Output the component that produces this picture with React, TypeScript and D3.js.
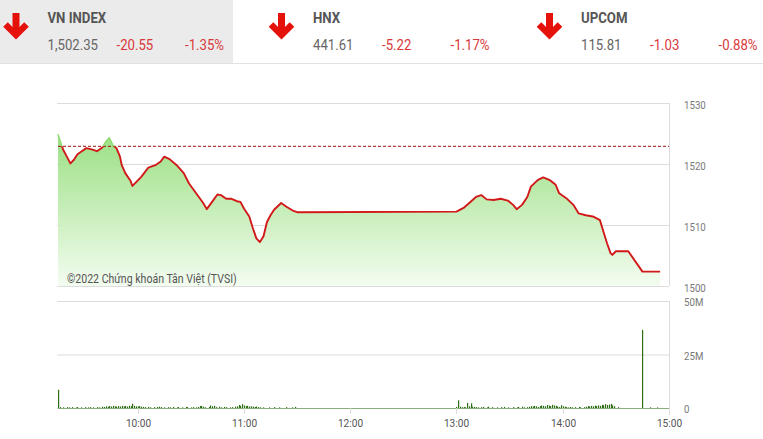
import React from "react";
import * as d3 from "d3";

// ---------- data ----------
const indexNames = ["VN INDEX", "HNX", "UPCOM"];
const indexValues = ["1,502.35", "441.61", "115.81"];
const indexChanges = ["-20.55", "-5.22", "-1.03"];
const indexPercents = ["-1.35%", "-1.17%", "-0.88%"];

const referencePrice = 1522.9;

const priceTimes = [
  "09:15", "09:17", "09:18", "09:20", "09:22", "09:24", "09:26", "09:28", "09:31", "09:34",
  "09:37", "09:40", "09:42", "09:44", "09:46", "09:48", "09:50", "09:51", "09:53", "09:56",
  "09:57", "09:59", "10:02", "10:06", "10:10", "10:13", "10:15", "10:18", "10:22", "10:26",
  "10:29", "10:33", "10:37", "10:39", "10:42", "10:45", "10:47", "10:50", "10:53", "10:56",
  "10:58", "11:00", "11:03", "11:05", "11:07", "11:09", "11:11", "11:13", "11:15", "11:17",
  "11:21", "11:24", "11:28", "11:30",
  "13:00", "13:04", "13:08", "13:11", "13:14", "13:17", "13:21", "13:25", "13:29", "13:32",
  "13:34", "13:37", "13:40", "13:42", "13:46", "13:49", "13:53", "13:56", "13:58", "14:02",
  "14:06", "14:09", "14:13", "14:17", "14:21", "14:23", "14:25", "14:27", "14:28", "14:30",
  "14:37", "14:45", "14:55",
];
const priceValues = [
  1524.9, 1523.1, 1522.3, 1521.2, 1520.1, 1520.7, 1521.6, 1522.0, 1522.6, 1522.4,
  1522.1, 1522.7, 1523.7, 1524.3, 1523.1, 1522.6, 1521.2, 1519.8, 1518.5, 1517.2,
  1516.4, 1517.0, 1517.9, 1519.4, 1519.8, 1520.4, 1521.2, 1520.8, 1519.8, 1518.5,
  1516.8, 1515.2, 1513.6, 1512.6, 1513.8, 1515.0, 1514.9, 1514.3, 1514.3, 1513.9,
  1513.8, 1512.7, 1511.4, 1509.5, 1507.8, 1507.2, 1508.1, 1510.5, 1511.6, 1512.5,
  1513.6, 1513.0, 1512.3, 1512.1,
  1512.2, 1512.8, 1513.8, 1514.6, 1514.9, 1514.2, 1514.1, 1514.3, 1514.0, 1513.3,
  1512.6, 1513.3, 1514.6, 1516.3, 1517.4, 1517.8, 1517.3, 1516.6, 1515.2, 1514.4,
  1513.3, 1511.9, 1511.6, 1511.4, 1510.8, 1508.9, 1507.0, 1505.4, 1505.1, 1505.7,
  1505.7, 1502.35, 1502.35,
];

// volume per minute (millions), morning session starts 09:15
const volumeMorningStart = "09:15";
const volumeMorning = [
  8.5,
  0.4, 0, 0.3, 0, 0.4, 0.3, 0, 0.4, 0, 0.3, 0.4, 0, 0.3, 0, 0.4, 0, 0.3, 0.4, 0, 0.3, 0, 0.4, 0.3, 0,
  0.6, 0.5, 0.8, 0.6, 0.9, 0.7, 1.0, 0.8, 0.6, 0.9, 0.7, 1.0, 0.8, 0.9, 0.7, 1.1, 0.9, 2.0, 1.0, 0.8, 0.7, 0.9, 0.6, 0.5,
  0.4, 0, 0.5, 0.3, 0, 0.4, 0, 0.5, 0.6, 0.4, 0, 0.3, 0, 0.4, 0.3, 0, 0.5, 0, 0.3, 0.4, 0, 0.3, 0, 0.5, 0.4, 0, 0.3, 0.4, 0, 0.3,
  0.5, 0.9, 1.0, 0.6, 0.3, 0, 0.5, 1.2, 0.8, 1.0, 0.4, 0, 0.6, 0.3, 0, 0.5, 0.4,
  0, 0.3, 0.4, 0, 0.6, 0.8, 1.4, 1.0, 1.8, 1.2, 0.9, 1.0, 0.7, 0.8, 0.6, 0.5, 0.7, 0.4, 0.3, 0,
  0.3, 0, 0, 0.3, 0, 0, 0.4, 0, 0, 0.3, 0, 0, 0, 0.4, 0, 0, 0.3, 0, 0.5,
];
// volume per minute (millions), afternoon session starts 13:00
const volumeAfternoonStart = "13:00";
const volumeAfternoon = [
  0.5, 3.6, 0.6, 0.4, 0.5, 0.3, 2.4, 0.8, 2.2, 0.6, 0.5, 0.4,
  0.3, 0, 0.4, 0.5, 0, 0.3, 0.6, 0, 0.4, 0, 0, 0.3, 0, 0.4, 0, 0.5, 0, 0.3, 0, 0, 0.4, 0, 0.3, 0.5, 0, 0.6, 0.3, 0, 0.4,
  0.6, 0.9, 0.7, 1.0, 0.8, 0.5, 0.9, 1.2, 1.0, 0.8, 1.4, 1.1, 0.9, 1.5, 1.2, 1.0, 0.7, 0.5, 1.3, 0.8, 0.6, 0.4, 0.3, 0.5,
  0.3, 0, 0.4, 0, 0.5, 0.3, 0, 0.4, 0.6, 0.9, 0.7, 1.0, 0.8, 1.1, 0.9, 1.2, 1.0, 1.5, 1.3, 1.8, 1.4, 1.6, 1.9, 1.2, 0.8,
];
const volumeExtraTimes = ["14:31", "14:45", "14:49", "14:53"];
const volumeExtraValues = [0.4, 36.5, 0.3, 0.3];

const priceTicks = [1500, 1510, 1520, 1530];
const volumeTicks = [0, 25, 50];
const volumeTickLabels = ["0", "25M", "50M"];
const timeTicks = ["10:00", "11:00", "12:00", "13:00", "14:00", "15:00"];
const timeDomain = ["09:15", "15:00"];
const copyright = "©2022 Chứng khoán Tân Việt (TVSI)";

// ---------- helpers ----------
const toDate = (s: string) => {
  const [h, m] = s.split(":").map(Number);
  return new Date(2022, 0, 1, h, m);
};
const addMinutes = (s: string, n: number) => new Date(toDate(s).getTime() + n * 60000);

const W = 763;
const H = 439;
const FONT = "Roboto, 'Noto Sans', sans-serif";
const SX = 0.88;

function Arrow({ cx }: { cx: number }) {
  return (
    <g fill="none" stroke="#e5120c">
      <line x1={cx} x2={cx} y1={13} y2={32} strokeWidth={7} />
      <path d={`M${cx - 10.5},24.5 L${cx},35 L${cx + 10.5},24.5`} strokeWidth={6.5} strokeLinejoin="miter" />
    </g>
  );
}

function Txt({ x, y, children, ...rest }: any) {
  return (
    <g transform={`translate(${x},${y}) scale(${SX},1)`}>
      <text x={0} y={0} {...rest}>{children}</text>
    </g>
  );
}

export default function App() {
  const left = 58;
  const right = 669;
  const pTop = 103;
  const pBot = 286;
  const vTop = 301;
  const vBot = 408;

  const x = d3.scaleTime().domain(timeDomain.map(toDate)).range([left, right]);
  const yP = d3.scaleLinear().domain([1500, 1530]).range([pBot, pTop]);
  const yV = d3.scaleLinear().domain([0, 50]).range([vBot, vTop]);

  const pts = priceTimes.map((t, i) => ({ d: toDate(t), v: priceValues[i] }));
  const line = d3.line<any>().x((p) => x(p.d)).y((p) => yP(p.v));
  const area = d3.area<any>().x((p) => x(p.d)).y0(pBot).y1((p) => yP(p.v));
  const yRef = yP(referencePrice);

  const vols = [
    ...volumeMorning.map((v, i) => ({ d: addMinutes(volumeMorningStart, i), v })),
    ...volumeAfternoon.map((v, i) => ({ d: addMinutes(volumeAfternoonStart, i), v })),
    ...volumeExtraTimes.map((t, i) => ({ d: toDate(t), v: volumeExtraValues[i] })),
  ].filter((b) => b.v > 0);

  const textX = [47.5, 313, 581];
  const grid = "#dcdcdc";

  return (
    <svg
      width={W}
      height={H}
      viewBox={`0 0 ${W} ${H}`}
      style={{ position: "fixed", left: 0, top: 0, background: "#fff" }}
      fontFamily={FONT}
    >
      <defs>
        <linearGradient id="fillG" gradientUnits="userSpaceOnUse" x1={0} x2={0} y1={118} y2={pBot}>
          <stop offset="0%" stopColor="#92dd78" />
          <stop offset="100%" stopColor="#f3fcf0" />
        </linearGradient>
        <clipPath id="below">
          <rect x={0} y={yRef} width={W} height={pBot - yRef + 5} />
        </clipPath>
        <clipPath id="above">
          <rect x={0} y={0} width={W} height={yRef} />
        </clipPath>
      </defs>

      {/* header */}
      <rect x={0} y={0} width={233} height={63} fill="#ebebeb" />
      <line x1={0} x2={W} y1={63.5} y2={63.5} stroke="#e2e2e2" />
      {indexNames.map((n, i) => (
        <g key={n}>
          <Arrow cx={textX[i] - 31.5} />
          <Txt x={textX[i]} y={22.7} fontSize={15} fontWeight={700} fill="#555">{n}</Txt>
          <Txt x={textX[i]} y={50} fontSize={15} fill="#666">{indexValues[i]}</Txt>
          <Txt x={textX[i] + 69} y={50} fontSize={15} fill="#d9393a">{indexChanges[i]}</Txt>
          <Txt x={textX[i] + 137.5} y={50} fontSize={15} fill="#d9393a">{indexPercents[i]}</Txt>
        </g>
      ))}

      {/* price grid */}
      {priceTicks.map((t) => (
        <g key={t}>
          <line x1={left - 1} x2={right} y1={yP(t) + 0.5} y2={yP(t) + 0.5} stroke={grid} />
          <Txt x={684} y={yP(t) + 5.5} fontSize={11} fill="#777">{t}</Txt>
        </g>
      ))}
      <line x1={right + 0.5} x2={right + 0.5} y1={pTop} y2={pBot} stroke={grid} />

      {/* area + lines */}
      <path d={area(pts) || ""} fill="url(#fillG)" />
      <line x1={left} x2={right} y1={yRef} y2={yRef} stroke="#9a1010" strokeWidth={1} strokeDasharray="3,2" />
      <path d={line(pts) || ""} fill="none" stroke="#d2191a" strokeWidth={1.9} clipPath="url(#below)" strokeLinejoin="round" />
      <path d={line(pts) || ""} fill="none" stroke="#8fdb74" strokeWidth={1.5} clipPath="url(#above)" strokeLinejoin="round" />

      <Txt x={67} y={282.5} fontSize={12} fill="#555">{copyright}</Txt>

      {/* volume grid */}
      {volumeTicks.map((t, i) => (
        <g key={t}>
          <line x1={left - 1} x2={right} y1={yV(t) + 0.5} y2={yV(t) + 0.5} stroke={grid} />
          <Txt x={684} y={yV(t) + 5} fontSize={11} fill="#777">{volumeTickLabels[i]}</Txt>
        </g>
      ))}
      <line x1={right + 0.5} x2={right + 0.5} y1={vTop} y2={vBot + 7} stroke={grid} />

      {/* volume bars */}
      {vols.map((b, i) => (
        <rect key={i} x={Math.round(x(b.d))} y={yV(b.v)} width={1.2} height={vBot - yV(b.v)} fill="#2f6f14" />
      ))}
      <line x1={left} x2={right} y1={vBot + 0.5} y2={vBot + 0.5} stroke="#4a8a2c" strokeWidth={0.8} opacity={0.7} />

      {/* time axis */}
      {timeTicks.map((t) => {
        const px = Math.round(x(toDate(t))) + 0.5;
        return (
          <g key={t}>
            <line x1={px} x2={px} y1={vBot} y2={vBot + 6} stroke={grid} />
            <g transform={`translate(${px},426.5) scale(${SX},1)`}>
              <text textAnchor="middle" fontSize={11.5} fill="#555">{t}</text>
            </g>
          </g>
        );
      })}
    </svg>
  );
}
